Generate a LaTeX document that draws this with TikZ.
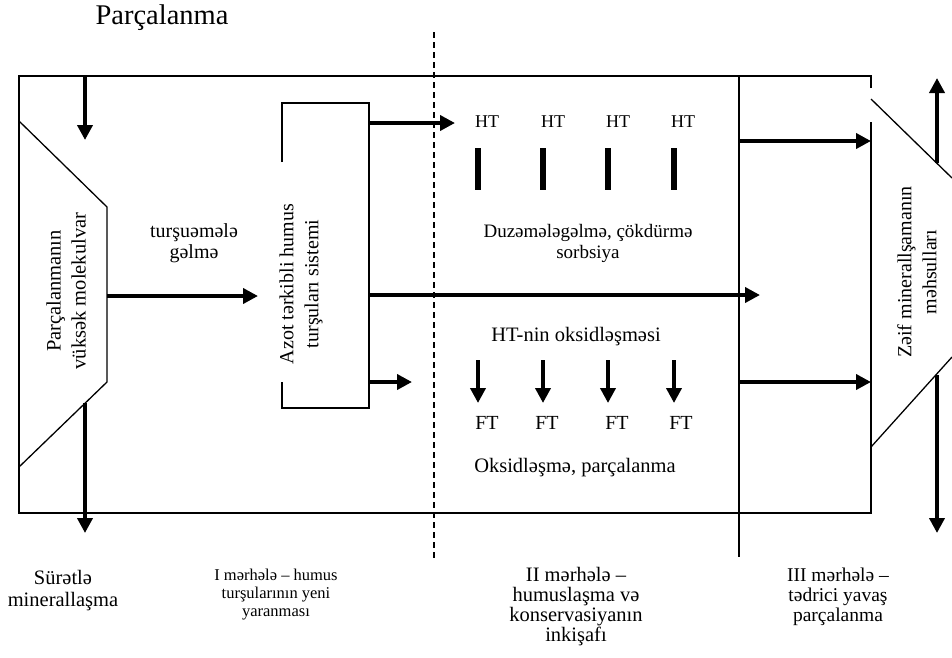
\documentclass[tikz,border=0pt]{standalone}
\usepackage{fontspec}
\setmainfont{Liberation Serif}
\usetikzlibrary{arrows.meta}
\begin{document}
\begin{tikzpicture}[x=1pt,y=-1pt,
  frame/.style={line width=1.3pt, line join=miter},
  flow/.style={line width=4.6pt,-{Triangle[length=15pt,width=15pt]}},
  twoway/.style={line width=4.6pt,-{Triangle[length=15pt,width=15pt]}},
  bar/.style={line width=5.5pt},
  txt/.style={font=\fontsize{19}{21}\selectfont, align=center, inner sep=0pt},
  small/.style={font=\fontsize{16.5}{18}\selectfont, align=center, inner sep=0pt},
  lbl/.style={font=\fontsize{20}{20.5}\selectfont, align=center, inner sep=0pt}]
\fill[white] (0,0) rectangle (952,657);
\useasboundingbox (0,0) rectangle (952,657);

% outer frame (with small gap at right top)
\draw[frame] (871,88) -- (871,76) -- (19,76) -- (19,513) -- (871,513) -- (871,122);

% left trapezoid
\draw[frame] (19,121) -- (107,207) -- (107,382) -- (19,467);
% Azot box (left side open in the middle)
\draw[frame] (282,162) -- (282,103) -- (369,103) -- (369,408) -- (282,408) -- (282,382);
% right trapezoid (cut by the page edge)
\draw[frame] (871,99) -- (952,178);
\draw[frame] (871,447) -- (952,357);

% stage separators
\draw[frame, dash pattern=on 6pt off 4pt] (434,32) -- (434,558);
\draw[frame] (739,76) -- (739,557);

% coordinates
\coordinate (tA) at (85,76);   \coordinate (tB) at (85,140);
\coordinate (bA) at (85,403);  \coordinate (bB) at (85,533);
\coordinate (mA) at (107,296); \coordinate (mB) at (258,296);
\coordinate (z1A) at (369,123); \coordinate (z1B) at (455,123);
\coordinate (z2A) at (369,295); \coordinate (z2B) at (760,295);
\coordinate (z3A) at (369,382); \coordinate (z3B) at (412,382);
\coordinate (r1A) at (739,141); \coordinate (r1B) at (871,141);
\coordinate (r2A) at (739,382); \coordinate (r2B) at (871,382);
\coordinate (u1A) at (937,163); \coordinate (u1B) at (937,78);
\coordinate (u2A) at (937,375); \coordinate (u2B) at (937,533);

\draw[flow] (tA) -- (tB);
\draw[flow] (bA) -- (bB);
\draw[flow] (mA) -- (mB);
\draw[flow] (z1A) -- (z1B);
\draw[flow] (z2A) -- (z2B);
\draw[flow] (z3A) -- (z3B);
\draw[flow] (r1A) -- (r1B);
\draw[flow] (r2A) -- (r2B);
\draw[twoway] (u1A) -- (u1B);
\draw[twoway] (u2A) -- (u2B);

% HT bars and FT arrows
\foreach \x [count=\i] in {478,543,608,674}{
  \coordinate (hb\i a) at (\x,148); \coordinate (hb\i b) at (\x,190);
  \draw[bar] (hb\i a) -- (hb\i b);
  \coordinate (fa\i a) at (\x,360); \coordinate (fa\i b) at (\x,403);
  \draw[flow] (fa\i a) -- (fa\i b);
}

% texts
\node[inner sep=0pt, font=\fontsize{28.5}{30}\selectfont] (title) at (162,18) {Parçalanma};
\node[txt, rotate=90, font=\fontsize{20.5}{25}\selectfont] (lefttxt) at (66,291) {Parçalanmanın\\vüksək molekulvar};
\node[txt, font=\fontsize{20}{21}\selectfont] (turs) at (194,243) {turşuəmələ\\gəlmə};
\node[txt, rotate=90, font=\fontsize{20}{25}\selectfont] (azottxt) at (301,284) {Azot tərkibli humus\\turşuları sistemi};
\node[txt, font=\fontsize{18}{21}\selectfont] (ht1) at (487,122) {HT};
\node[txt, font=\fontsize{18}{21}\selectfont] (ht2) at (553,122) {HT};
\node[txt, font=\fontsize{18}{21}\selectfont] (ht3) at (618,122) {HT};
\node[txt, font=\fontsize{18}{21}\selectfont] (ht4) at (683,122) {HT};
\node[txt] (duz) at (588,243) {Duzəmələgəlmə, çökdürmə\\sorbsiya};
\node[txt, font=\fontsize{20.5}{21}\selectfont] (htox) at (576,337) {HT-nin oksidləşməsi};
\node[txt, font=\fontsize{20}{21}\selectfont] (ft1) at (487,423) {FT};
\node[txt, font=\fontsize{20}{21}\selectfont] (ft2) at (547,423) {FT};
\node[txt, font=\fontsize{20}{21}\selectfont] (ft3) at (617,423) {FT};
\node[txt, font=\fontsize{20}{21}\selectfont] (ft4) at (681,423) {FT};
\node[txt, font=\fontsize{20.5}{21}\selectfont] (oks) at (575,468) {Oksidləşmə, parçalanma};
\node[txt, rotate=90, font=\fontsize{20}{25}\selectfont] (righttxt) at (917,272) {Zəif minerallşamanın\\məhsulları};

\node[lbl, font=\fontsize{20.5}{22}\selectfont] (lab0) at (63,591) {Sürətlə\\minerallaşma};
\node[small] (lab1) at (276,595) {I mərhələ – humus\\turşularının yeni\\yaranması};
\node[lbl, font=\fontsize{20.5}{20}\selectfont] (lab2) at (576,607) {II mərhələ –\\humuslaşma və\\konservasiyanın\\inkişafı};
\node[lbl, font=\fontsize{19.5}{20}\selectfont] (lab3) at (838,597) {III mərhələ –\\tədrici yavaş\\parçalanma};
\end{tikzpicture}
\end{document}
